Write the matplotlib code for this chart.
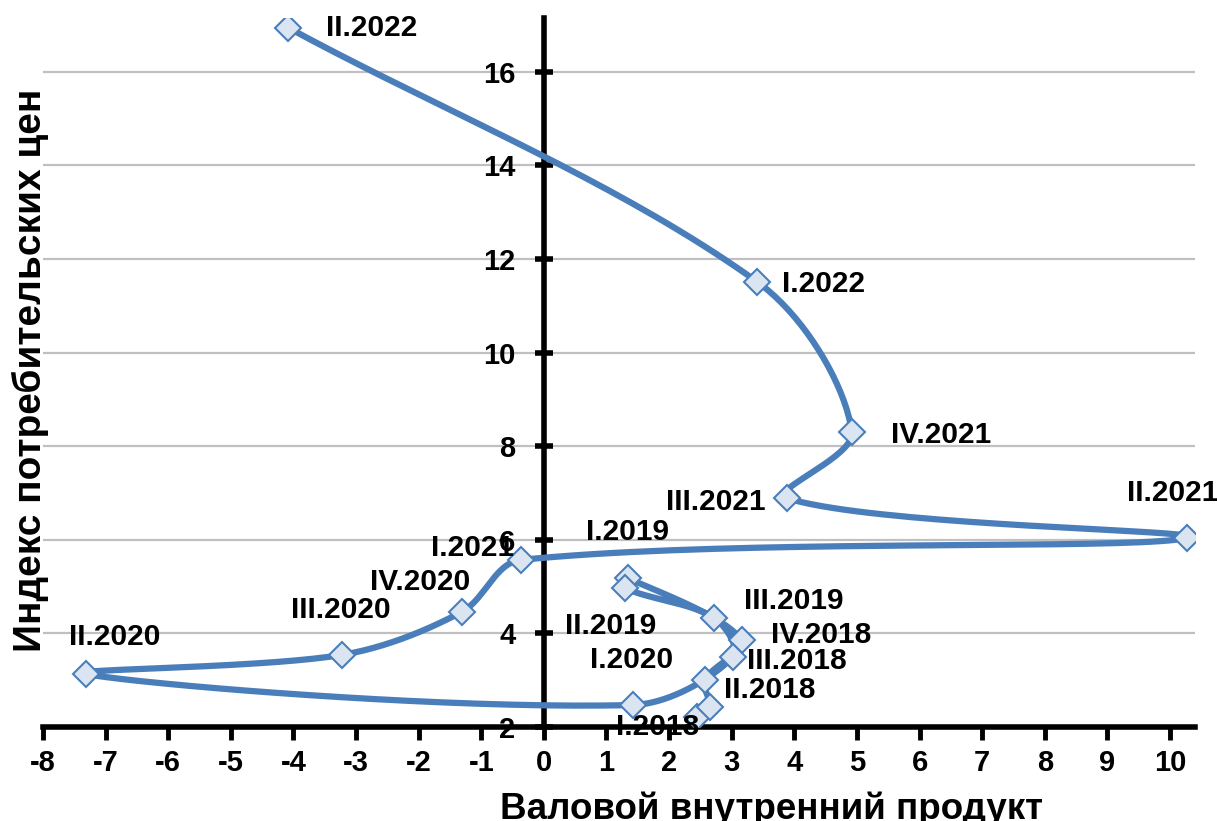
import matplotlib
matplotlib.use('Agg')
import matplotlib.pyplot as plt
import numpy as np

plt.rcParams['font.family'] = ['Liberation Sans', 'DejaVu Sans']
plt.rcParams['font.weight'] = 'bold'
plt.rcParams['axes.unicode_minus'] = False

# данные: квартал, ВВП (%), ИПЦ (%)
quarters = ['I.2018', 'II.2018', 'III.2018', 'IV.2018',
            'I.2019', 'II.2019', 'III.2019', 'IV.2019',
            'I.2020', 'II.2020', 'III.2020', 'IV.2020',
            'I.2021', 'II.2021', 'III.2021', 'IV.2021',
            'I.2022', 'II.2022']
gdp = [2.44, 2.65, 2.57, 3.16,
       1.34, 1.29, 2.72, 3.02,
       1.42, -7.32, -3.23, -1.31,
       -0.37, 10.28, 3.88, 4.92,
       3.41, -4.08]
cpi = [2.21, 2.43, 3.00, 3.86,
       5.18, 4.97, 4.33, 3.50,
       2.47, 3.13, 3.54, 4.46,
       5.57, 6.04, 6.89, 8.30,
       11.51, 16.94]

# смещения подписей (пиксели)
label_off = {
    'I.2018': (-39, -10), 'II.2018': (60, 17), 'III.2018': (92, 19),
    'IV.2018': (79, 5), 'I.2019': (0, 46), 'II.2019': (-14, -38),
    'III.2019': (80, 17), 'I.2020': (-1, 45), 'II.2020': (29, 37),
    'III.2020': (-1, 45), 'IV.2020': (-42, 30), 'I.2021': (-48, 12),
    'II.2021': (-15, 45), 'III.2021': (-71, -4), 'IV.2021': (89, -3),
    'I.2022': (66, -2), 'II.2022': (83, 0),
}

blue = '#4a7ebb'

fig = plt.figure(figsize=(12.17, 8.21), dpi=100)
ax = fig.add_axes([43/1217, 1-727/821, 1152/1217, 709/821])
ax.set_xlim(-8, 10.4)
ax.set_ylim(2, 17.15)

# сглаженная линия (как в Excel) - считаем в экранных координатах
def smooth(pts, n=40):
    N = len(pts)
    d = np.linalg.norm(np.diff(pts, axis=0), axis=1)
    t = np.linspace(0, 1, n)[:, None]
    out = []
    for i in range(N-1):
        p1, p2 = pts[i], pts[i+1]
        if i == 0:
            c1 = p1 + (p2-p1)/3
        else:
            c1 = p1 + (pts[i+1]-pts[i-1])*d[i]/(d[i-1]+d[i])/3
        if i == N-2:
            c2 = p2 - (p2-p1)/3
        else:
            c2 = p2 - (pts[i+2]-pts[i])*d[i]/(d[i]+d[i+1])/3
        out.append((1-t)**3*p1 + 3*(1-t)**2*t*c1 + 3*(1-t)*t**2*c2 + t**3*p2)
    return np.vstack(out)

disp = ax.transData.transform(np.column_stack([gdp, cpi]))
curve = ax.transData.inverted().transform(smooth(disp))
ax.plot(curve[:, 0], curve[:, 1], color=blue, lw=4.5, solid_capstyle='round', zorder=3)
ax.plot(gdp, cpi, ls='none', marker='D', ms=13, mfc='#dbe5f1', mec=blue, mew=1.5, zorder=4)

for q, x, y in zip(quarters, gdp, cpi):
    if q not in label_off:
        continue
    ax.annotate(q, (x, y), xytext=label_off[q], textcoords='offset pixels',
                ha='center', va='center', fontsize=21.5, fontweight='bold', zorder=5)

# оси
ax.spines['top'].set_visible(False)
ax.spines['right'].set_visible(False)
ax.spines['left'].set_position(('data', 0))
ax.spines['left'].set_linewidth(4)
ax.spines['bottom'].set_linewidth(4)
ax.spines['left'].set_zorder(2)
ax.spines['bottom'].set_zorder(2)

ax.set_xticks(np.arange(-8, 11, 1))
ax.set_yticks(np.arange(2, 17, 2))
ax.tick_params(axis='x', direction='out', length=9, width=3.5, labelsize=21, pad=7)
ax.tick_params(axis='y', direction='inout', length=13, width=4, labelsize=21, pad=14)
for lab in ax.get_xticklabels() + ax.get_yticklabels():
    lab.set_fontweight('bold')

ax.yaxis.grid(True, color='#c0c0c0', lw=1.6)
ax.set_axisbelow(True)

fig.text(30/1217, 1-370/821, 'Индекс потребительских цен', rotation=90,
         ha='center', va='center', fontsize=28, fontweight='bold')
fig.text(772/1217, 1-819/821, 'Валовой внутренний продукт',
         ha='center', va='baseline', fontsize=26.5, fontweight='bold')

fig.savefig('out.png', dpi=100)
